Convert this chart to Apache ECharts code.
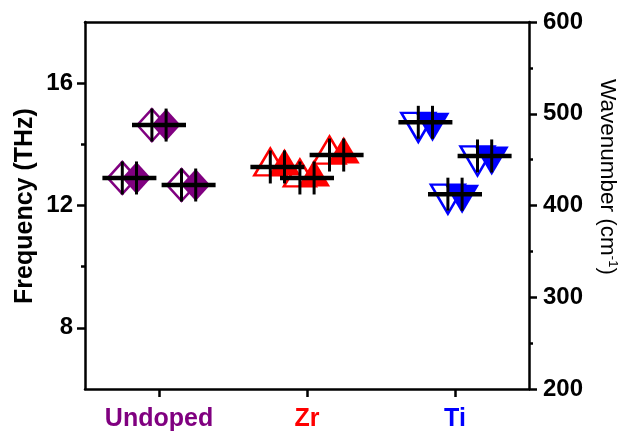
<!DOCTYPE html>
<html><head><meta charset="utf-8">
<script src="https://cdn.jsdelivr.net/npm/echarts@6/dist/echarts.min.js"></script>
<style>html,body{margin:0;padding:0;background:#fff}#c{width:626px;height:434px}</style>
</head><body><div id="c"></div>
<script>
// ---- data ----
const categories = ['Undoped', 'Zr', 'Ti'];
const categoryColors = ['#800080', '#FF0000', '#0000FF'];
const pairOffsets = [-0.2, 0, 0.2];           // position of each pair within a category
const undopedFreq = [12.90, 14.63, 12.67];    // THz
const zrFreq = [13.26, 12.90, 13.65];
const tiFreq = [14.72, 12.37, 13.62];
const freqTicks = [8, 12, 16];
const freqMinorTicks = [10, 14];
const waveMin = 200, waveMax = 600, waveStep = 100;

const groups = [undopedFreq, zrFreq, tiFreq];
const FONT = "'Liberation Sans', Arial, sans-serif";
const subShift = 0.048; // hollow / filled marker separation in a pair

const symbols = [
  { symbol: 'diamond', size: [29, 32], offset: [0, 0] },
  { symbol: 'triangle', size: [32, 27], offset: [0, -5] },
  { symbol: 'path://M0,0 L2,0 L1,2 Z', size: [34, 29], offset: [0, 5] }
];

const series = [];
groups.forEach((vals, g) => {
  const hollow = [], filled = [], centers = [];
  vals.forEach((v, i) => {
    const xc = g + 1 + pairOffsets[i];
    hollow.push([xc - subShift, v]);
    filled.push([xc + subShift, v]);
    centers.push([xc, v]);
  });
  const s = symbols[g];
  series.push({
    type: 'scatter', data: hollow, symbol: s.symbol, symbolSize: s.size, symbolOffset: s.offset,
    itemStyle: { color: '#fff', borderColor: categoryColors[g], borderWidth: 2.5, opacity: 1 }, z: 2, silent: true
  });
  series.push({
    type: 'scatter', data: filled, symbol: s.symbol, symbolSize: s.size, symbolOffset: s.offset,
    itemStyle: { color: categoryColors[g], borderWidth: 0, opacity: 1 }, z: 3, silent: true
  });
  series.push({
    type: 'scatter', data: hollow.concat(filled), symbol: 'rect', symbolSize: [3, 33],
    itemStyle: { color: '#000', opacity: 1 }, z: 4, silent: true
  });
  series.push({
    type: 'scatter', data: centers, symbol: 'rect', symbolSize: [54, 4.5],
    itemStyle: { color: '#000', opacity: 1 }, z: 5, silent: true
  });
});

const lineStyle = { color: '#000', width: 2.5 };
const rich = {};
categories.forEach((c, i) => { rich['c' + i] = { color: categoryColors[i], fontWeight: 'bold', fontSize: 25, fontFamily: FONT }; });

const option = {
  animation: false,
  backgroundColor: '#fff',
  grid: { left: 85, right: 97, top: 22, bottom: 45 },
  xAxis: [
    {
      type: 'value', min: 0.5, max: 3.5, position: 'bottom',
      axisLine: { show: true, onZero: false, lineStyle },
      axisTick: { show: true, inside: false, length: 8, lineStyle, customValues: [1, 2, 3] },
      axisLabel: {
        customValues: [1, 2, 3], margin: 18,
        formatter: v => { const i = Math.round(v) - 1; return '{c' + i + '|' + categories[i] + '}'; },
        rich
      },
      splitLine: { show: false }
    },
    {
      type: 'value', min: 0.5, max: 3.5, position: 'top',
      axisLine: { show: true, onZero: false, lineStyle },
      axisTick: { show: false }, axisLabel: { show: false }, splitLine: { show: false }
    }
  ],
  yAxis: [
    {
      type: 'value', min: 6, max: 18, position: 'left',
      axisLine: { show: true, onZero: false, lineStyle },
      axisTick: { show: true, inside: false, length: 8, lineStyle, customValues: freqTicks },
      axisLabel: { customValues: freqTicks, margin: 12, fontSize: 24, fontWeight: 'bold', color: '#000', fontFamily: FONT },
      splitLine: { show: false }
    },
    {
      type: 'value', min: 6, max: 18, position: 'left',
      axisLine: { show: false },
      axisTick: { show: true, inside: false, length: 4, lineStyle, customValues: freqMinorTicks },
      axisLabel: { show: false }, splitLine: { show: false }
    },
    {
      type: 'value', min: waveMin, max: waveMax, interval: waveStep, position: 'right',
      axisLine: { show: true, onZero: false, lineStyle },
      axisTick: { show: true, inside: false, length: 8, lineStyle },
      minorTick: { show: true, splitNumber: 2, length: 4, lineStyle },
      axisLabel: { margin: 14, fontSize: 24, fontWeight: 'bold', color: '#000', fontFamily: FONT },
      splitLine: { show: false }, minorSplitLine: { show: false }
    }
  ],
  series,
  graphic: [
    {
      type: 'text', x: 25, y: 206, rotation: Math.PI / 2,
      style: { text: 'Frequency (THz)', fontSize: 25, fontWeight: 'bold', fontFamily: FONT, fill: '#000', align: 'center', verticalAlign: 'middle' }
    },
    {
      type: 'text', x: 607, y: 177, rotation: -Math.PI / 2,
      style: {
        text: '{a|Wavenumber (cm}{s|-1}{a|)}', align: 'center', verticalAlign: 'middle',
        rich: {
          a: { fontSize: 22.5, fontFamily: FONT, fill: '#000', color: '#000', lineHeight: 24 },
          s: { fontSize: 13, fontFamily: FONT, fill: '#000', color: '#000', verticalAlign: 'top', lineHeight: 24, padding: [0, 0, 10, 0] }
        }
      }
    }
  ]
};

const chart = echarts.init(document.getElementById('c'), null, { renderer: 'canvas' });
chart.setOption(option);
</script>
</body></html>
